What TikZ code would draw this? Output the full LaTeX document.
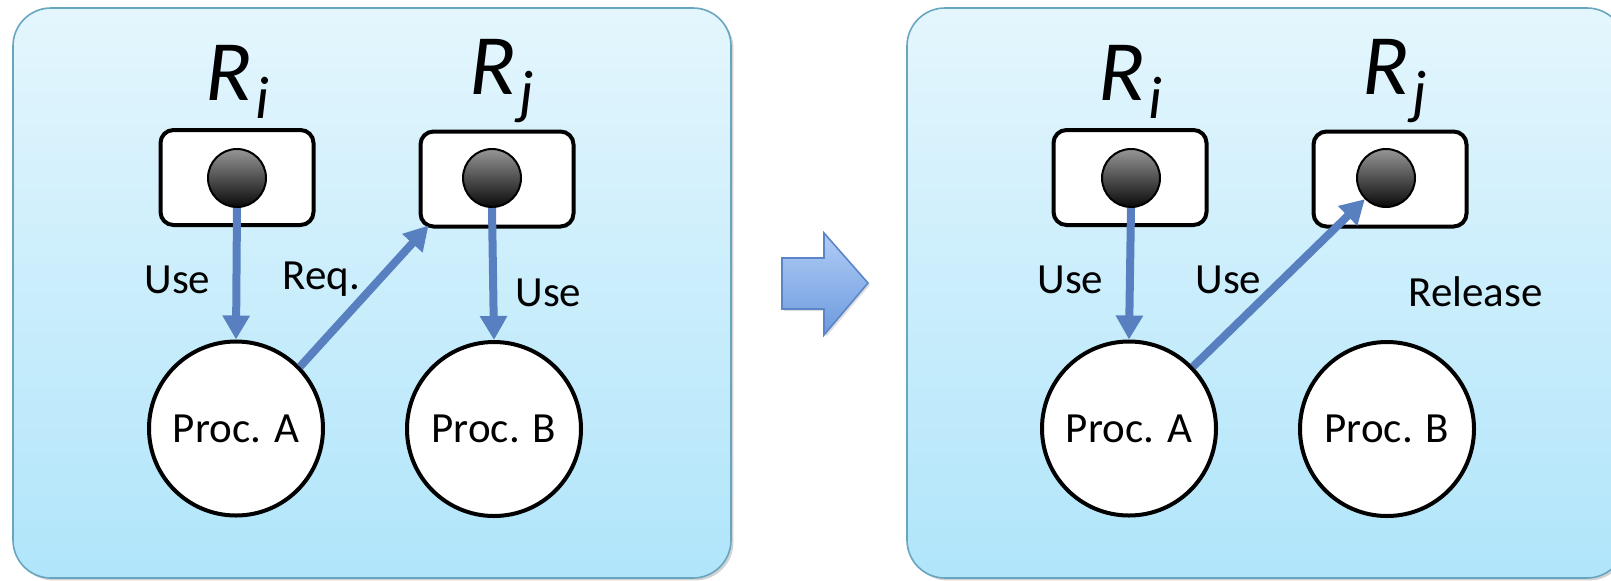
\documentclass[tikz,border=0pt]{standalone}
\usepackage{fontspec}
\setmainfont{Carlito}
\usetikzlibrary{arrows.meta,shadows,calc}

\definecolor{paneltop}{RGB}{228,246,253}
\definecolor{panelbot}{RGB}{176,229,250}
\definecolor{panelrim}{RGB}{104,166,192}
\definecolor{linkblue}{RGB}{88,128,192}
\definecolor{blocktop}{RGB}{176,205,246}
\definecolor{blockbot}{RGB}{108,154,222}
\definecolor{blockrim}{RGB}{90,134,200}
\definecolor{balltop}{RGB}{150,150,150}
\definecolor{ballbot}{RGB}{10,10,10}

% resource name: italic R with a lowered subscript
\newcommand\resname[1]{{\fontsize{43pt}{45pt}\selectfont\itshape R}\kern1.5pt\raisebox{-9pt}{\fontsize{30pt}{32pt}\selectfont\itshape #1}}

\begin{document}
\begin{tikzpicture}[x=0.5pt,y=-0.5pt,
  panel/.style={rounded corners=19pt,draw=panelrim,line width=0.8pt,
    top color=paneltop,bottom color=panelbot,
    drop shadow={shadow xshift=1.2pt,shadow yshift=-1.2pt,opacity=0.25,fill=black!70}},
  rbox/.style={draw=black,fill=white,line width=2pt,rounded corners=6.5pt,
    minimum width=76.5pt,minimum height=47.5pt,inner sep=0pt},
  ball/.style={circle,draw=black,line width=1pt,minimum size=29pt,inner sep=0pt,
    top color=balltop,bottom color=ballbot},
  proc/.style={circle,draw=black,fill=white,line width=2pt,minimum size=87pt,
    inner sep=0pt,font=\fontsize{21.5pt}{25pt}\selectfont},
  link/.style={draw=linkblue,line width=4pt,
    -{Triangle[width=13pt,length=12pt]}},
  lbl/.style={inner sep=0pt,anchor=base west,font=\fontsize{21.5pt}{25pt}\selectfont},
  rname/.style={inner sep=0pt,anchor=base west},
  blockarrow/.style={draw=blockrim,line width=0.8pt,line join=miter,
    top color=blocktop,bottom color=blockbot,
    drop shadow={shadow xshift=1pt,shadow yshift=-1pt,opacity=0.2,fill=black!60}}]

\useasboundingbox (0,0) rectangle (1611,580);
\clip (0,0) rectangle (1611,580);

% the two panels
\path[panel] (13,8) rectangle (731,578);
\path[panel] (907,8) rectangle (1625,578);

% transition arrow between the panels
\path[blockarrow] (782,258) -- (824,258) -- (824,233) -- (868,283)
  -- (824,335) -- (824,309) -- (782,309) -- cycle;

% ---- left panel: before ----
\node[rname] (lni) at (205,100) {\resname{i}};
\node[rname] (lnj) at (469,94) {\resname{j}};
\node[rbox] (lri) at (237,177.5) {};
\node[rbox] (lrj) at (497,179) {};
\node[proc] (lpa) at (236,428.5) {Proc. A};
\node[proc] (lpb) at (494,429) {Proc. B};
\node[ball] (lbi) at (237,178) {};
\node[ball] (lbj) at (492,178) {};

\draw[link] (lbi.south) -- (lpa.north);
\draw[link] (lpa.44) -- ($(lrj.south west)+(10,-3)$);
\draw[link] (lbj.south) -- (lpb.north);

\node[lbl] (lu1) at (144,293) {Use};
\node[lbl] (lrq) at (282,289) {Req.};
\node[lbl] (lu2) at (515,306) {Use};

% ---- right panel: after ----
\node[rname] (rni) at (1098,100) {\resname{i}};
\node[rname] (rnj) at (1362,94) {\resname{j}};
\node[rbox] (rri) at (1130,177.5) {};
\node[rbox] (rrj) at (1390,179) {};
\node[proc] (rpa) at (1129,428.5) {Proc. A};
\node[proc] (rpb) at (1387,429) {Proc. B};
\node[ball] (rbi) at (1131,178) {};
\node[ball] (rbj) at (1386,178) {};

\draw[link] (rbi.south) -- (rpa.north);
\draw[link] (rpa.44) -- (rbj.225);

\node[lbl] (ru1) at (1037,293) {Use};
\node[lbl] (ru2) at (1195,293) {Use};
\node[lbl] (rrl) at (1408,306) {Release};

\end{tikzpicture}
\end{document}
